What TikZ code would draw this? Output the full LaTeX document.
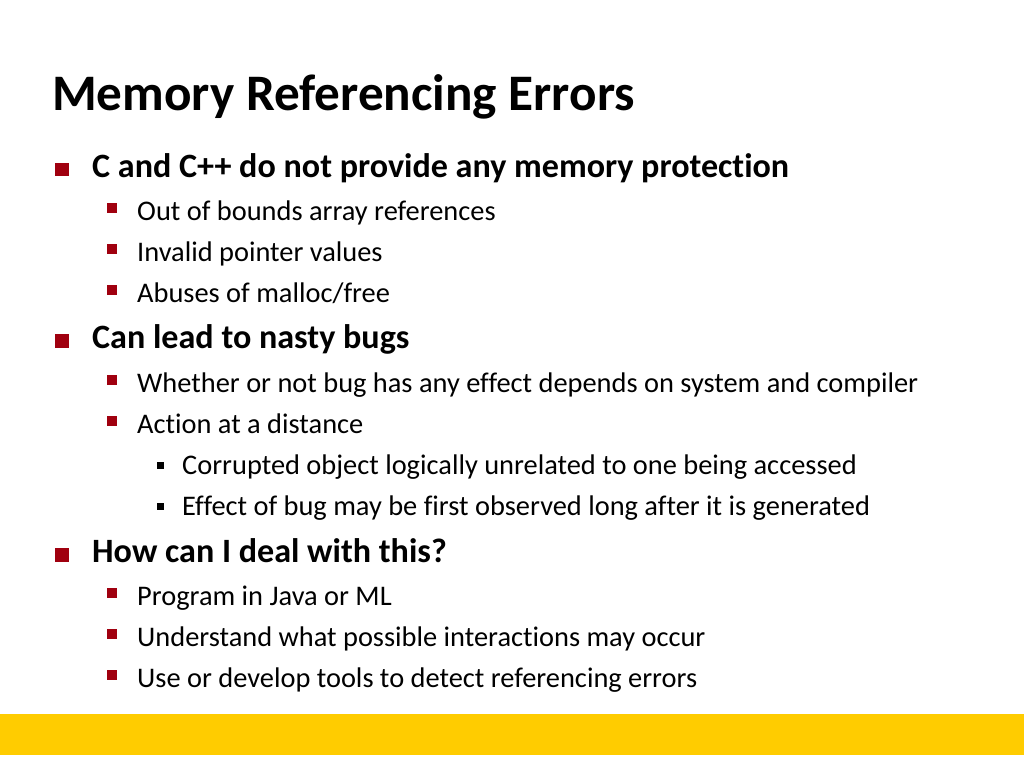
\documentclass[tikz,border=0pt]{standalone}
\usepackage{fontspec}
\setmainfont{Carlito}[Ligatures={NoCommon,NoRare,NoContextual}]
\definecolor{bulletred}{HTML}{A0000F}
\definecolor{baryellow}{HTML}{FFCC00}
\begin{document}
\begin{tikzpicture}[x=1pt,y=-1pt,
  titletext/.style={anchor=base west,inner sep=0pt,font=\fontsize{51.2}{56}\selectfont\bfseries},
  lone/.style={anchor=base west,inner sep=0pt,font=\fontsize{34.1}{38}\selectfont\bfseries},
  ltwo/.style={anchor=base west,inner sep=0pt,font=\fontsize{28.4}{32}\selectfont},
  lthree/.style={anchor=base west,inner sep=0pt,font=\fontsize{28.4}{32}\selectfont},
  bone/.style={fill=bulletred,draw=none,minimum width=13.5pt,minimum height=13.5pt,inner sep=0pt,anchor=south west},
  btwo/.style={fill=bulletred,draw=none,minimum width=9.5pt,minimum height=9.5pt,inner sep=0pt,anchor=south west},
  bthree/.style={fill=black,draw=none,minimum width=6.5pt,minimum height=6.5pt,inner sep=0pt,anchor=south west}]
\useasboundingbox (0,0) rectangle (1024,768);
\fill[white] (0,0) rectangle (1024,768);
\fill[baryellow] (0,714) rectangle (1024,755);
\node[titletext] (title) at (52,110) {Memory Referencing Errors};
% level 1
\node[bone] (b1) at (55,176.5) {};
\node[lone] (t1) at (92,177) {C and C++ do not provide any memory protection};
\node[btwo] (b11) at (107,213) {};
\node[ltwo] (t11) at (137,220) {Out of bounds array references};
\node[btwo] (b12) at (107,254) {};
\node[ltwo] (t12) at (137,261) {Invalid pointer values};
\node[btwo] (b13) at (107,295) {};
\node[ltwo] (t13) at (137,302) {Abuses of malloc/free};
\node[bone] (b2) at (55,348) {};
\node[lone] (t2) at (92,348.5) {Can lead to nasty bugs};
\node[btwo] (b21) at (107,385) {};
\node[ltwo] (t21) at (137,392) {Whether or not bug has any effect depends on system and compiler};
\node[btwo] (b22) at (107,426) {};
\node[ltwo] (t22) at (137,433) {Action at a distance};
\node[bthree] (b221) at (157,469) {};
\node[lthree] (t221) at (182,474) {Corrupted object logically unrelated to one being accessed};
\node[bthree] (b222) at (157,510) {};
\node[lthree] (t222) at (182,515) {Effect of bug may be first observed long after it is generated};
\node[bone] (b3) at (55,562) {};
\node[lone] (t3) at (92,562.5) {How can I deal with this?};
\node[btwo] (b31) at (107,598) {};
\node[ltwo] (t31) at (137,605) {Program in Java or ML};
\node[btwo] (b32) at (107,639) {};
\node[ltwo] (t32) at (137,646) {Understand what possible interactions may occur};
\node[btwo] (b33) at (107,680) {};
\node[ltwo] (t33) at (137,687) {Use or develop tools to detect referencing errors};
\end{tikzpicture}
\end{document}
